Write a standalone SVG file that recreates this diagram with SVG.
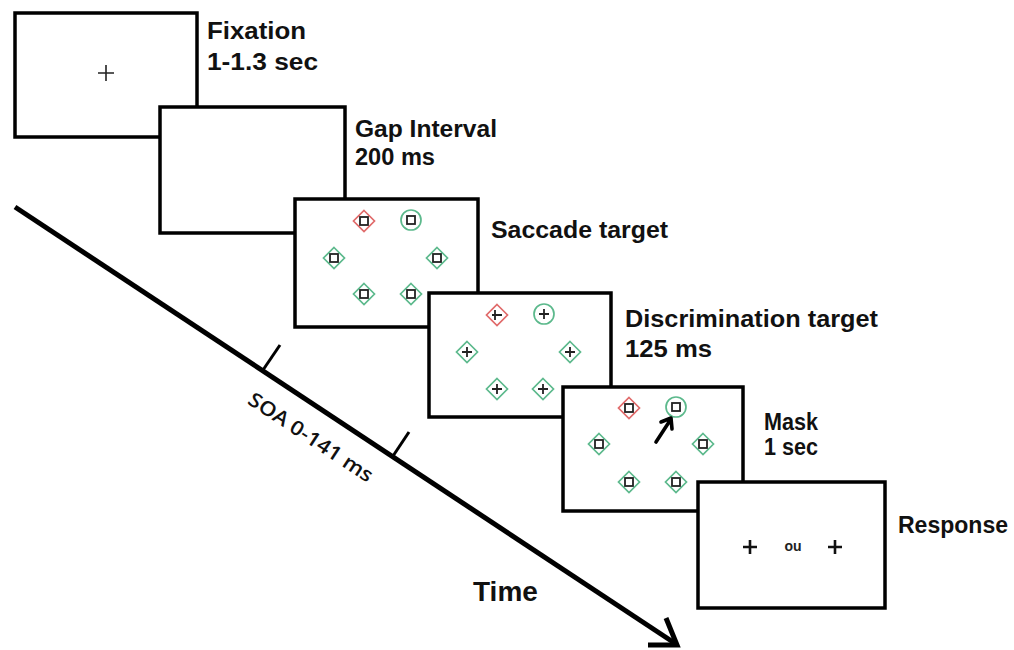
<svg xmlns="http://www.w3.org/2000/svg" xmlns:xlink="http://www.w3.org/1999/xlink" width="1014" height="650" viewBox="0 0 1014 650">
<style>
.box{fill:#fff;stroke:#000;stroke-width:3.5}
.lbl{font-family:"Liberation Sans",Arial,sans-serif;font-weight:bold;font-size:23px;fill:#111}
.g{fill:none;stroke:#5cb98c;stroke-width:1.7}
.r{fill:none;stroke:#e06a6a;stroke-width:1.7}
.k{fill:none;stroke:#222;stroke-width:1.8}
.axis{fill:none;stroke:#000;stroke-width:5}
.tick{fill:none;stroke:#000;stroke-width:3}
</style>
<defs>
<polygon id="dg" class="g" points="0,-10.5 10.5,0 0,10.5 -10.5,0"/>
<polygon id="dr" class="r" points="0,-10.5 10.5,0 0,10.5 -10.5,0"/>
<circle id="cg" class="g" r="10"/>
<rect id="sq" class="k" x="-4" y="-4" width="8" height="8"/>
<path id="pl" class="k" d="M-5,0H5M0,-5V5"/>
<path id="pr" class="k" d="M-5,0H5M-2,-5V5"/>
</defs>

<g id="connectors">
<line class="axis" x1="15" y1="207" x2="676" y2="644"/>
<polyline class="axis" points="648,645 677,645 666,618" stroke-linejoin="miter"/>
<line class="tick" x1="263" y1="370" x2="280" y2="345"/>
<line class="tick" x1="393" y1="456" x2="409" y2="432"/>
<text transform="translate(307,443) rotate(33.5)" text-anchor="middle" font-family="'Open Sans','Liberation Sans',Arial,sans-serif" font-weight="600" font-size="20" fill="#111" textLength="145" lengthAdjust="spacingAndGlyphs">SOA 0-141 ms</text>
<text x="473" y="601" font-family="'Liberation Sans',Arial,sans-serif" font-weight="bold" font-size="28" fill="#111">Time</text>
</g>

<g id="fixation">
<rect class="box" x="15" y="13" width="182" height="124"/>
<path d="M98,73H114M106,65V81" stroke="#222" stroke-width="1.6" fill="none"/>
<text class="lbl" x="207" y="39" textLength="99" lengthAdjust="spacingAndGlyphs">Fixation</text>
<text class="lbl" x="207" y="70" textLength="111" lengthAdjust="spacingAndGlyphs">1-1.3 sec</text>
</g>

<g id="gap">
<rect class="box" x="160" y="107" width="185" height="126"/>
<text class="lbl" x="355" y="137" textLength="142" lengthAdjust="spacingAndGlyphs">Gap Interval</text>
<text class="lbl" x="355" y="165" textLength="80" lengthAdjust="spacingAndGlyphs">200 ms</text>
</g>

<g id="saccade">
<rect class="box" x="295" y="199" width="183" height="128"/>
<use href="#dr" x="364" y="221"/><use href="#sq" x="364" y="221"/>
<use href="#cg" x="411" y="220"/><use href="#sq" x="411" y="220"/>
<use href="#dg" x="334" y="258"/><use href="#sq" x="334" y="258"/>
<use href="#dg" x="437" y="258"/><use href="#sq" x="437" y="258"/>
<use href="#dg" x="364" y="294"/><use href="#sq" x="364" y="294"/>
<use href="#dg" x="411" y="294"/><use href="#sq" x="411" y="294"/>
<text class="lbl" x="491" y="238" textLength="177" lengthAdjust="spacingAndGlyphs">Saccade  target</text>
</g>

<g id="discrimination">
<rect class="box" x="429" y="293" width="182" height="124"/>
<use href="#dr" x="497" y="315"/><use href="#pr" x="497" y="315"/>
<use href="#cg" x="544" y="314"/><use href="#pl" x="544" y="314"/>
<use href="#dg" x="467" y="352"/><use href="#pl" x="467" y="352"/>
<use href="#dg" x="570" y="352"/><use href="#pl" x="570" y="352"/>
<use href="#dg" x="497" y="389"/><use href="#pl" x="497" y="389"/>
<use href="#dg" x="543" y="389"/><use href="#pl" x="543" y="389"/>
<text class="lbl" x="625" y="327" textLength="253" lengthAdjust="spacingAndGlyphs">Discrimination  target</text>
<text class="lbl" x="625" y="357" textLength="87" lengthAdjust="spacingAndGlyphs">125 ms</text>
</g>

<g id="mask">
<rect class="box" x="563" y="387" width="180" height="124"/>
<use href="#dr" x="629" y="408"/><use href="#sq" x="629" y="408"/>
<use href="#cg" x="676" y="407"/><use href="#sq" x="676" y="407"/>
<use href="#dg" x="599" y="444"/><use href="#sq" x="599" y="444"/>
<use href="#dg" x="703" y="444"/><use href="#sq" x="703" y="444"/>
<use href="#dg" x="629" y="482"/><use href="#sq" x="629" y="482"/>
<use href="#dg" x="676" y="482"/><use href="#sq" x="676" y="482"/>
<path d="M656,442L671,419M661,422L671,418L672,429" fill="none" stroke="#000" stroke-width="3.6" stroke-linecap="round" stroke-linejoin="round"/>
<text class="lbl" x="764" y="430" textLength="54" lengthAdjust="spacingAndGlyphs">Mask</text>
<text class="lbl" x="764" y="455" textLength="54" lengthAdjust="spacingAndGlyphs">1 sec</text>
</g>

<g id="response">
<rect class="box" x="698" y="482" width="187" height="126"/>
<path d="M743,547H757M750,540V554M828,547H842M835,540V554" stroke="#111" stroke-width="2.6" fill="none"/>
<text x="793" y="551" text-anchor="middle" font-family="'Liberation Sans',Arial,sans-serif" font-weight="bold" font-size="14" fill="#222">ou</text>
<text class="lbl" x="898" y="533" textLength="110" lengthAdjust="spacingAndGlyphs">Response</text>
</g>
</svg>
